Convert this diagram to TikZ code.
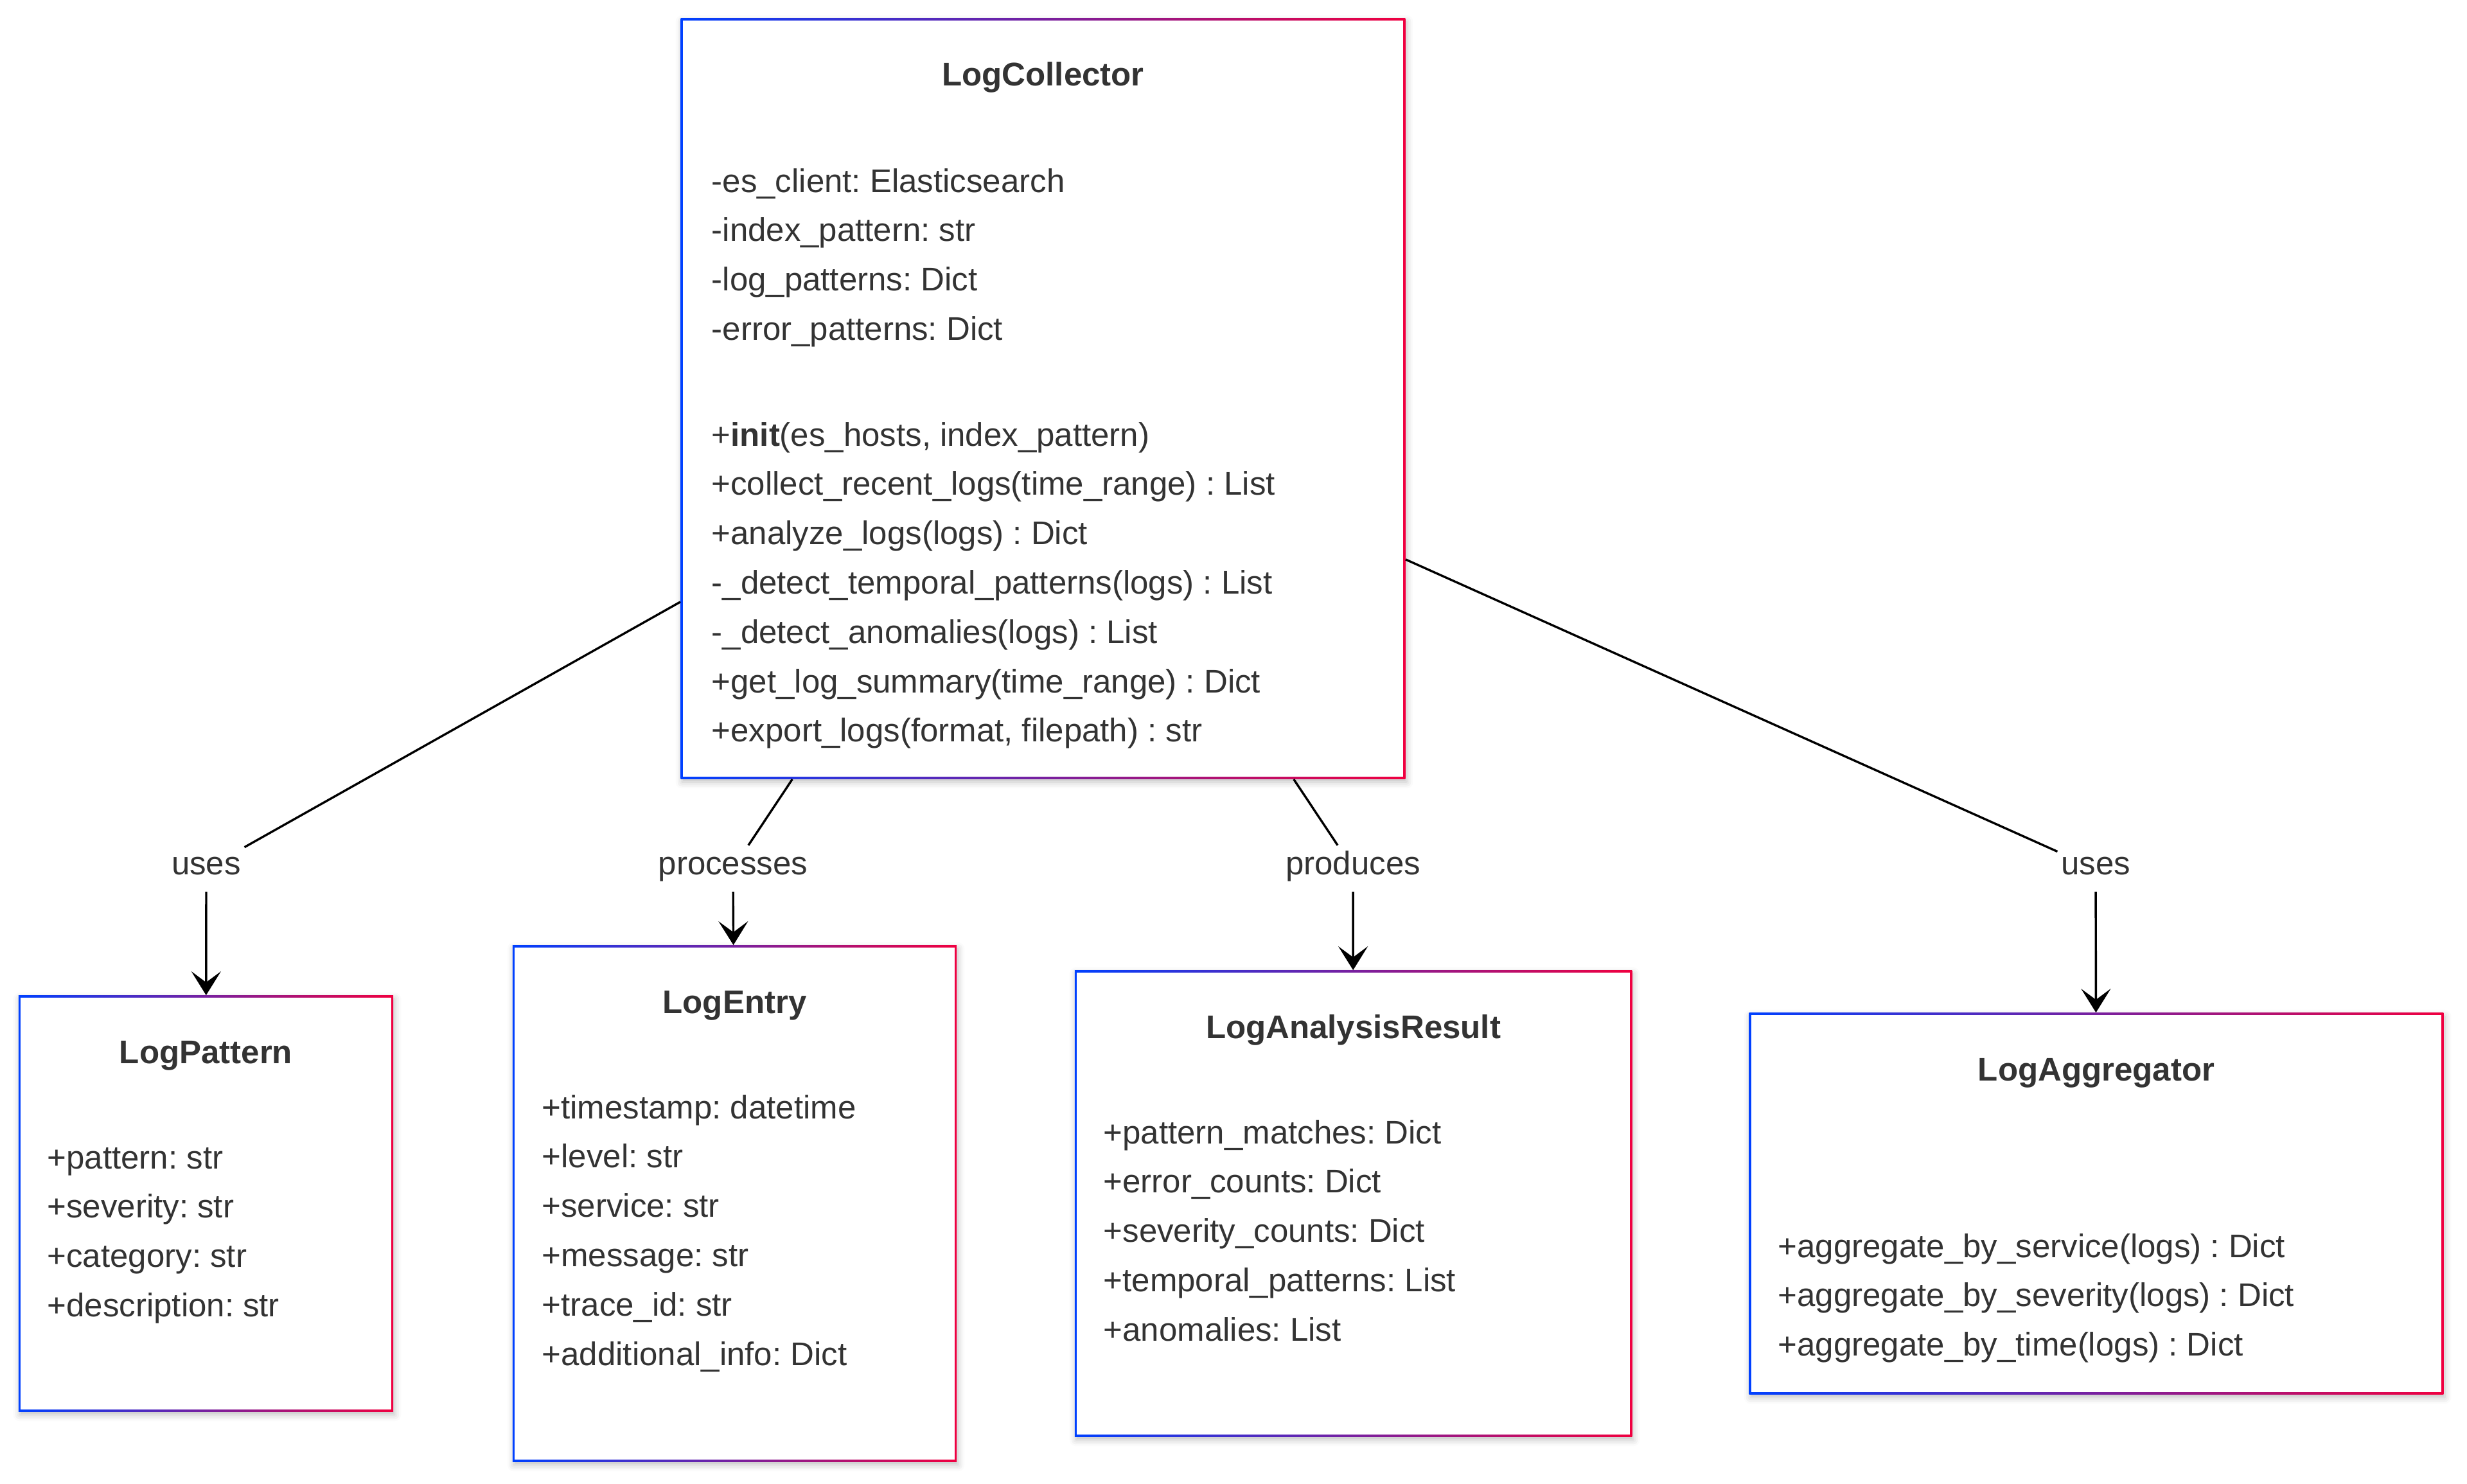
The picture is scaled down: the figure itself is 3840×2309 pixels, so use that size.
\documentclass[tikz,border=0pt]{standalone}
\usepackage{fontspec}
\setmainfont{Liberation Sans}
\usetikzlibrary{arrows.meta}
\usetikzlibrary{shadows.blur}
\definecolor{blue1}{RGB}{0, 64, 255}
\definecolor{red1}{RGB}{240, 0, 64}
\definecolor{text1}{RGB}{51, 51, 51}
\frenchspacing

\tikzset{
  classbox/.style={rectangle, fill=white, inner sep=0pt,
    blur shadow={shadow xshift=0.02cm, shadow yshift=-0.05cm,
      shadow blur radius=0.1cm, shadow opacity=25},
    path picture={
      \shade[left color=blue1, right color=red1]
        (path picture bounding box.south west) rectangle (path picture bounding box.north east);
      \fill[white]
        ([xshift=0.03cm,yshift=0.03cm]path picture bounding box.south west) rectangle
        ([xshift=-0.03cm,yshift=-0.03cm]path picture bounding box.north east);
    }},
  classname/.style={anchor=base, inner sep=0pt, text=text1,
    font=\fontsize{14.5pt}{17pt}\selectfont\bfseries},
  member/.style={anchor=base west, inner sep=0pt, text=text1,
    font=\fontsize{14.5pt}{17pt}\selectfont},
  elabel/.style={inner xsep=0.05cm, inner ysep=0pt, minimum height=0.71cm, text=text1,
    text height=0.75em, text depth=0.22em,
    font=\fontsize{14.5pt}{17pt}\selectfont},
  edge/.style={line width=0.034cm, black,
    -{Stealth[length=0.37cm, width=0.46cm, inset=0.17cm]}}
}

\begin{document}
\begin{tikzpicture}[x=0.01cm, y=-0.01cm]
  \useasboundingbox (0,0) rectangle (3840,2309);

  % class boxes
  \node[classbox, minimum width=11.27cm, minimum height=11.83cm] (lc) at (1623.5,620.5) {};
  \node[classbox, minimum width=5.83cm, minimum height=6.47cm] (lp) at (320.5,1873.5) {};
  \node[classbox, minimum width=6.91cm, minimum height=8.03cm] (le) at (1143.5,1873.5) {};
  \node[classbox, minimum width=8.67cm, minimum height=7.25cm] (lr) at (2106.5,1873.5) {};
  \node[classbox, minimum width=10.8cm, minimum height=5.93cm] (la) at (3263,1873.5) {};

  % names
  \node[classname] (lc-name) at (1623.5,134) {LogCollector};
  \node[classname] (lp-name) at (320.5,1655) {LogPattern};
  \node[classname] (le-name) at (1143.5,1577) {LogEntry};
  \node[classname] (lr-name) at (2106.5,1616) {LogAnalysisResult};
  \node[classname] (la-name) at (3263,1682) {LogAggregator};

  % LogCollector
  \foreach \t [count=\i from 0] in {-es\_client: Elasticsearch, -index\_pattern: str,
      -log\_patterns: Dict, -error\_patterns: Dict}
    \node[member] (lc-a\i) at (1107,299+76.8*\i) {\t};
  \foreach \t [count=\i from 0] in {{+\textbf{init}(es\_hosts, index\_pattern)},
      +collect\_recent\_logs(time\_range) : List, +analyze\_logs(logs) : Dict,
      -\_detect\_temporal\_patterns(logs) : List, -\_detect\_anomalies(logs) : List,
      +get\_log\_summary(time\_range) : Dict, {+export\_logs(format, filepath) : str}}
    \node[member] (lc-m\i) at (1107,694+76.8*\i) {\t};

  % LogPattern
  \foreach \t [count=\i from 0] in {+pattern: str, +severity: str, +category: str, +description: str}
    \node[member] (lp-a\i) at (73,1819+76.8*\i) {\t};

  % LogEntry
  \foreach \t [count=\i from 0] in {+timestamp: datetime, +level: str, +service: str,
      +message: str, +trace\_id: str, +additional\_info: Dict}
    \node[member] (le-a\i) at (843,1741+76.8*\i) {\t};

  % LogAnalysisResult
  \foreach \t [count=\i from 0] in {+pattern\_matches: Dict, +error\_counts: Dict,
      +severity\_counts: Dict, +temporal\_patterns: List, +anomalies: List}
    \node[member] (lr-a\i) at (1717,1780+76.8*\i) {\t};

  % LogAggregator
  \foreach \t [count=\i from 0] in {+aggregate\_by\_service(logs) : Dict,
      +aggregate\_by\_severity(logs) : Dict, +aggregate\_by\_time(logs) : Dict}
    \node[member] (la-m\i) at (2767,1957+76.8*\i) {\t};

  % edge labels
  \node[elabel] (u1) at (321,1352) {uses};
  \node[elabel] (pr) at (1141,1352) {processes};
  \node[elabel] (pd) at (2106,1352) {produces};
  \node[elabel] (u2) at (3262,1352) {uses};

  \foreach \from/\lab/\to in {lc/u1/lp, lc/pr/le, lc/pd/lr, lc/u2/la}
    \draw[edge] (\from) -- (\lab) -- (\to);
\end{tikzpicture}
\end{document}
